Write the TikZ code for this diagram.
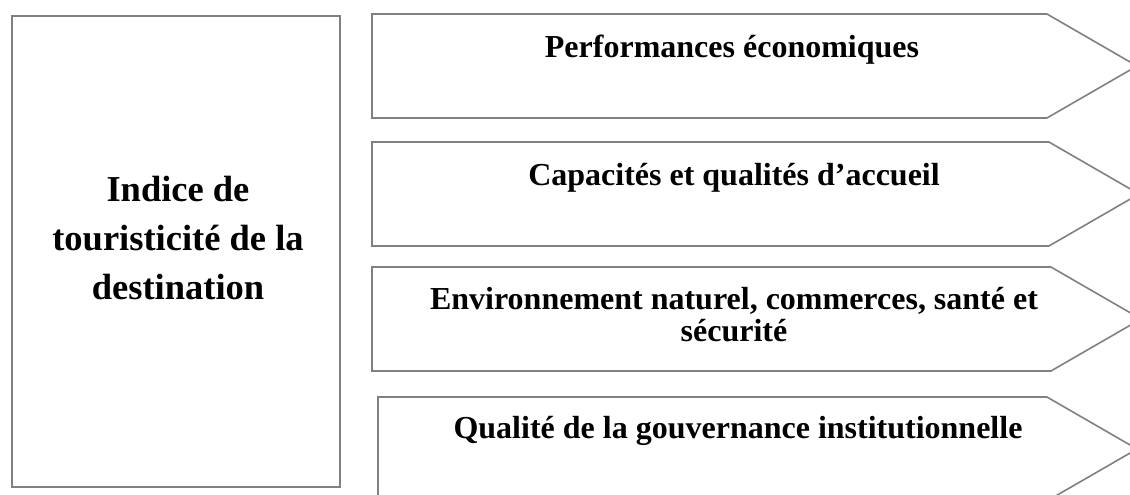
\documentclass[tikz,border=0pt]{standalone}
\usepackage{fontspec}
\setmainfont{Liberation Serif}
\usetikzlibrary{calc, positioning, shapes.symbols}
\definecolor{linegray}{RGB}{128,128,128}

\begin{document}
\begin{tikzpicture}[x=1pt,y=-1pt,
  box/.style={draw=linegray,line width=1.6pt,inner sep=0pt,outer sep=0pt},
  tag/.style={box,signal,signal to=east,signal pointer angle=60,minimum height=104pt,minimum width=765pt,anchor=north west},
  tagtext/.style={font=\fontsize{32}{32}\selectfont\bfseries,align=center,anchor=base,inner sep=0pt}]
\useasboundingbox (0,0) rectangle (1130,495);
\clip (0,0) rectangle (1130,495);

% the index
\node[box,minimum width=328pt,minimum height=471pt,anchor=north west] (indice) at (12,16) {};
\node[font=\fontsize{36.5}{49}\selectfont\bfseries,align=center,anchor=base,inner sep=0pt] (titre) at ($(indice.north)+(2,283)$) {Indice de\\touristicité de la\\destination};

% the four pillars
\node[tag] (perf) at (372,14) {};
\node[tag,minimum width=767pt] (accueil) at (372,142) {};
\node[tag,minimum width=769pt] (env) at (372,267) {};
\node[tag,minimum width=759pt] (gouv) at (378,397) {};

\node[tagtext] (perftxt) at ($(perf.north west)+(360,44)$) {Performances économiques};
\node[tagtext] (accueiltxt) at ($(accueil.north west)+(362,43)$) {Capacités et qualités d’accueil};
\node[tagtext] (envtxt) at ($(env.north west)+(362,74)$) {Environnement naturel, commerces, santé et\\sécurité};
\node[tagtext] (gouvtxt) at ($(gouv.north west)+(360,41)$) {Qualité de la gouvernance institutionnelle};
\end{tikzpicture}
\end{document}
